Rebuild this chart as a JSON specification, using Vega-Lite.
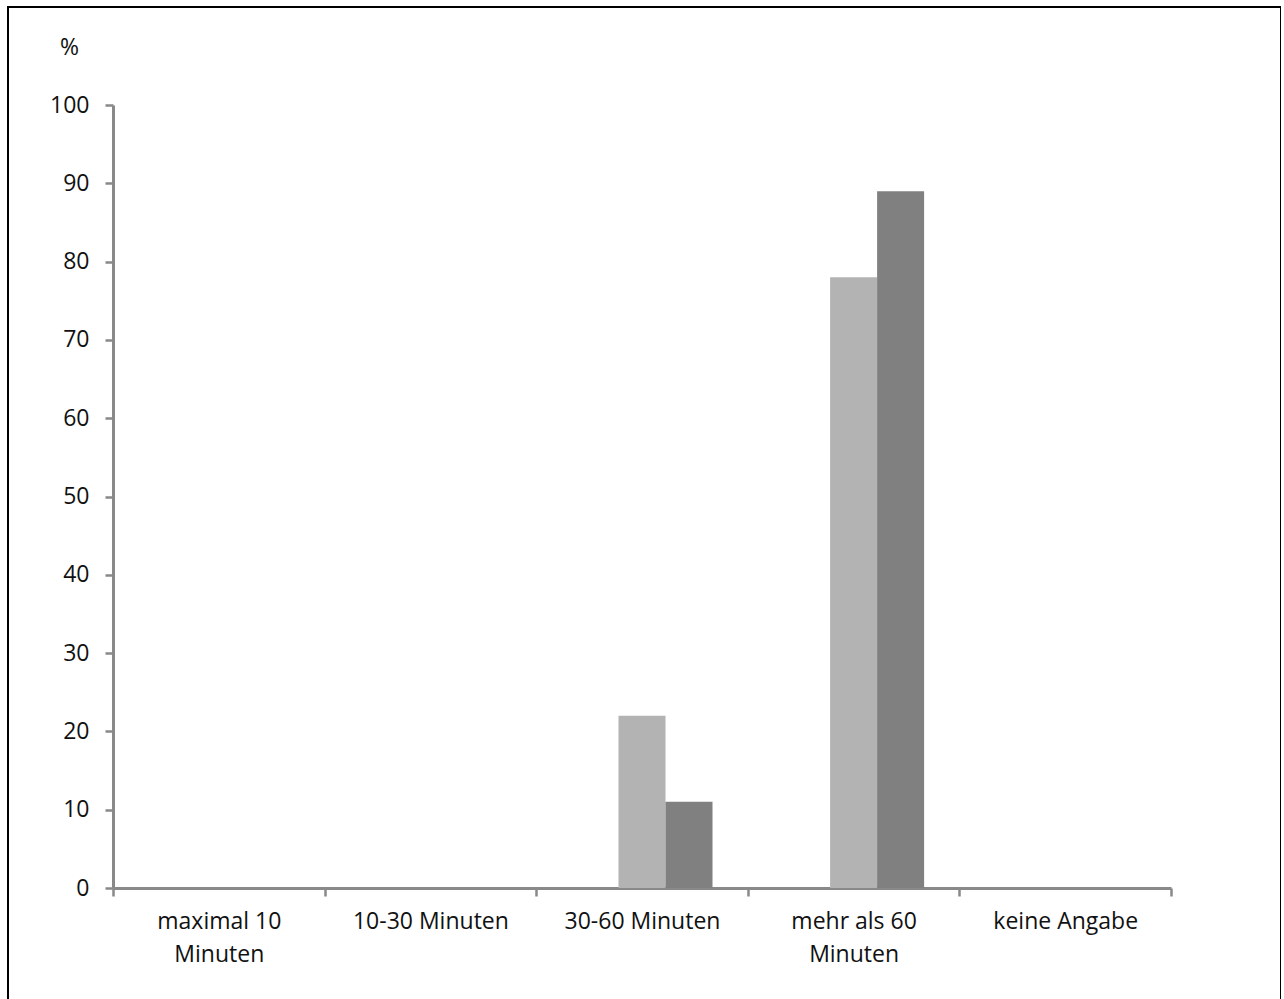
{
  "$schema": "https://vega.github.io/schema/vega-lite/v6.json",
  "width": 1273,
  "height": 1000,
  "autosize": {"type": "none"},
  "padding": {"left": 8, "top": 7, "right": 0, "bottom": 0},
  "background": "white",
  "config": {
    "view": {"stroke": "#000000", "strokeWidth": 2},
    "font": "Open Sans"
  },
  "data": {
    "values": [
      {"Dauer": "maximal 10 Minuten", "Gruppe": "Reihe 1", "Prozent": 0},
      {"Dauer": "maximal 10 Minuten", "Gruppe": "Reihe 2", "Prozent": 0},
      {"Dauer": "maximal 10 Minuten", "Gruppe": "Reihe 3", "Prozent": 0},
      {"Dauer": "10-30 Minuten", "Gruppe": "Reihe 1", "Prozent": 0},
      {"Dauer": "10-30 Minuten", "Gruppe": "Reihe 2", "Prozent": 0},
      {"Dauer": "10-30 Minuten", "Gruppe": "Reihe 3", "Prozent": 0},
      {"Dauer": "30-60 Minuten", "Gruppe": "Reihe 1", "Prozent": 0},
      {"Dauer": "30-60 Minuten", "Gruppe": "Reihe 2", "Prozent": 22},
      {"Dauer": "30-60 Minuten", "Gruppe": "Reihe 3", "Prozent": 11},
      {"Dauer": "mehr als 60 Minuten", "Gruppe": "Reihe 1", "Prozent": 0},
      {"Dauer": "mehr als 60 Minuten", "Gruppe": "Reihe 2", "Prozent": 78},
      {"Dauer": "mehr als 60 Minuten", "Gruppe": "Reihe 3", "Prozent": 89},
      {"Dauer": "keine Angabe", "Gruppe": "Reihe 1", "Prozent": 0},
      {"Dauer": "keine Angabe", "Gruppe": "Reihe 2", "Prozent": 0},
      {"Dauer": "keine Angabe", "Gruppe": "Reihe 3", "Prozent": 0}
    ]
  },
  "mark": {"type": "bar"},
  "encoding": {
    "x": {
      "field": "Dauer",
      "type": "nominal",
      "sort": ["maximal 10 Minuten", "10-30 Minuten", "30-60 Minuten", "mehr als 60 Minuten", "keine Angabe"],
      "scale": {"range": [105, 1163], "paddingInner": 0, "paddingOuter": 0},
      "axis": {
        "orient": "bottom",
        "offset": -119,
        "title": null,
        "tickBand": "extent",
        "tickSize": 8,
        "tickWidth": 2.5,
        "tickColor": "#898989",
        "domainColor": "#898989",
        "domainWidth": 3,
        "labelAngle": 0,
        "labelFontSize": 23,
        "labelColor": "#111111",
        "labelPadding": 14,
        "labelOverlap": false,
        "labelLimit": 400,
        "labelLineHeight": 33,
        "labelExpr": "datum.label == 'maximal 10 Minuten' ? ['maximal 10', 'Minuten'] : datum.label == 'mehr als 60 Minuten' ? ['mehr als 60', 'Minuten'] : datum.label"
      }
    },
    "xOffset": {
      "field": "Gruppe",
      "type": "nominal",
      "sort": ["Reihe 1", "Reihe 2", "Reihe 3"],
      "scale": {"paddingInner": 0, "paddingOuter": 0.751}
    },
    "y": {
      "field": "Prozent",
      "type": "quantitative",
      "scale": {"domain": [0, 100], "range": [881, 98], "nice": false},
      "axis": {
        "orient": "left",
        "offset": -105,
        "values": [0, 10, 20, 30, 40, 50, 60, 70, 80, 90, 100],
        "grid": false,
        "tickSize": 8,
        "tickWidth": 2.5,
        "tickColor": "#898989",
        "domainColor": "#898989",
        "domainWidth": 3,
        "labelFontSize": 23,
        "labelColor": "#111111",
        "labelPadding": 16,
        "labelFlush": false,
        "labelOverlap": false,
        "title": "%",
        "titleAngle": 0,
        "titleX": -44,
        "titleY": 40,
        "titleAlign": "center",
        "titleBaseline": "middle",
        "titleFontSize": 23,
        "titleFontWeight": "normal",
        "titleColor": "#111111"
      }
    },
    "color": {
      "field": "Gruppe",
      "type": "nominal",
      "scale": {"domain": ["Reihe 1", "Reihe 2", "Reihe 3"], "range": ["#d9d9d9", "#b3b3b3", "#808080"]},
      "legend": null
    }
  }
}
